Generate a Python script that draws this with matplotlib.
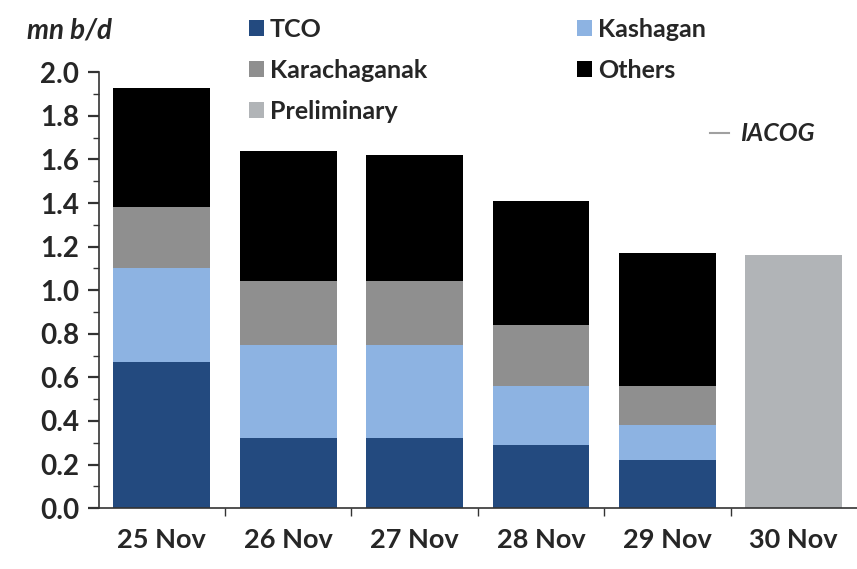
import matplotlib.pyplot as plt
import numpy as np
from matplotlib.patches import Patch
from matplotlib.lines import Line2D
from matplotlib.ticker import MultipleLocator, FixedLocator, FormatStrFormatter

days = ['25 Nov', '26 Nov', '27 Nov', '28 Nov', '29 Nov', '30 Nov']
tco = [0.67, 0.32, 0.32, 0.29, 0.22, 0.0]
kashagan = [0.43, 0.43, 0.43, 0.27, 0.16, 0.0]
karachaganak = [0.28, 0.29, 0.29, 0.28, 0.18, 0.0]
others = [0.55, 0.60, 0.58, 0.57, 0.61, 0.0]
preliminary = [0.0, 0.0, 0.0, 0.0, 0.0, 1.16]

colors = {
    'TCO': '#234a7f',
    'Kashagan': '#8db3e2',
    'Karachaganak': '#8f8f8f',
    'Others': '#000000',
    'Preliminary': '#b1b4b7',
}

plt.rcParams['font.family'] = ['Lato', 'DejaVu Sans']
txt = '#262626'

fig = plt.figure(figsize=(8.57, 5.69), dpi=100)
ax = fig.add_axes([0.115, 0.107, 0.885, 0.766])

x = np.arange(len(days))
w = 0.765
bottom = np.zeros(len(days))
for name, vals in [('TCO', tco), ('Kashagan', kashagan),
                   ('Karachaganak', karachaganak), ('Others', others),
                   ('Preliminary', preliminary)]:
    vals = np.array(vals)
    ax.bar(x, vals, w, bottom=bottom, color=colors[name], linewidth=0)
    bottom += vals

ax.set_xlim(-0.5, 5.5)
ax.set_ylim(0, 2.0)
ax.yaxis.set_major_locator(MultipleLocator(0.2))
ax.yaxis.set_minor_locator(MultipleLocator(0.1))
ax.yaxis.set_major_formatter(FormatStrFormatter('%.1f'))
ax.set_xticks(x)
ax.set_xticklabels(days)
ax.xaxis.set_minor_locator(FixedLocator(np.arange(0.5, 5.5, 1.0)))

for s in ['top', 'right']:
    ax.spines[s].set_visible(False)
for s in ['left', 'bottom']:
    ax.spines[s].set_color('#333333')
    ax.spines[s].set_linewidth(1.2)

ax.tick_params(axis='y', which='major', length=8, width=1.6, color='#333333',
               labelsize=20, labelcolor=txt, pad=6)
ax.tick_params(axis='y', which='minor', length=4, width=1.0, color='#333333')
ax.tick_params(axis='x', which='major', length=0, labelsize=19.5, labelcolor=txt, pad=14)
ax.tick_params(axis='x', which='minor', length=6, width=1.0, color='#333333')
for lab in ax.get_yticklabels() + ax.get_xticklabels():
    lab.set_fontweight('bold')

# legend: two columns, filled column by column
order = ['TCO', 'Karachaganak', 'Preliminary', 'Kashagan', 'Others']
handles = [Patch(facecolor=colors[n], edgecolor='none') for n in order]
leg = fig.legend(handles, order, loc='upper left', bbox_to_anchor=(0.264, 1.008),
                 ncol=2, frameon=False, fontsize=18, handlelength=0.6,
                 handleheight=0.6, handletextpad=0.25, columnspacing=6.0,
                 labelspacing=0.72)
for t in leg.get_texts():
    t.set_color(txt)
    t.set_fontweight('bold')

fig.text(0.031, 0.947, 'mn b/d', fontsize=20, style='italic', fontweight='bold',
         color=txt, va='center')
fig.add_artist(Line2D([710 / 857, 729 / 857], [0.766, 0.766], color='#a0a0a0',
                      linewidth=1.5, transform=fig.transFigure))
fig.text(0.864, 0.766, 'IACOG', fontsize=18, style='italic', fontweight='bold',
         color=txt, va='center')

fig.savefig('out.png', dpi=100)
